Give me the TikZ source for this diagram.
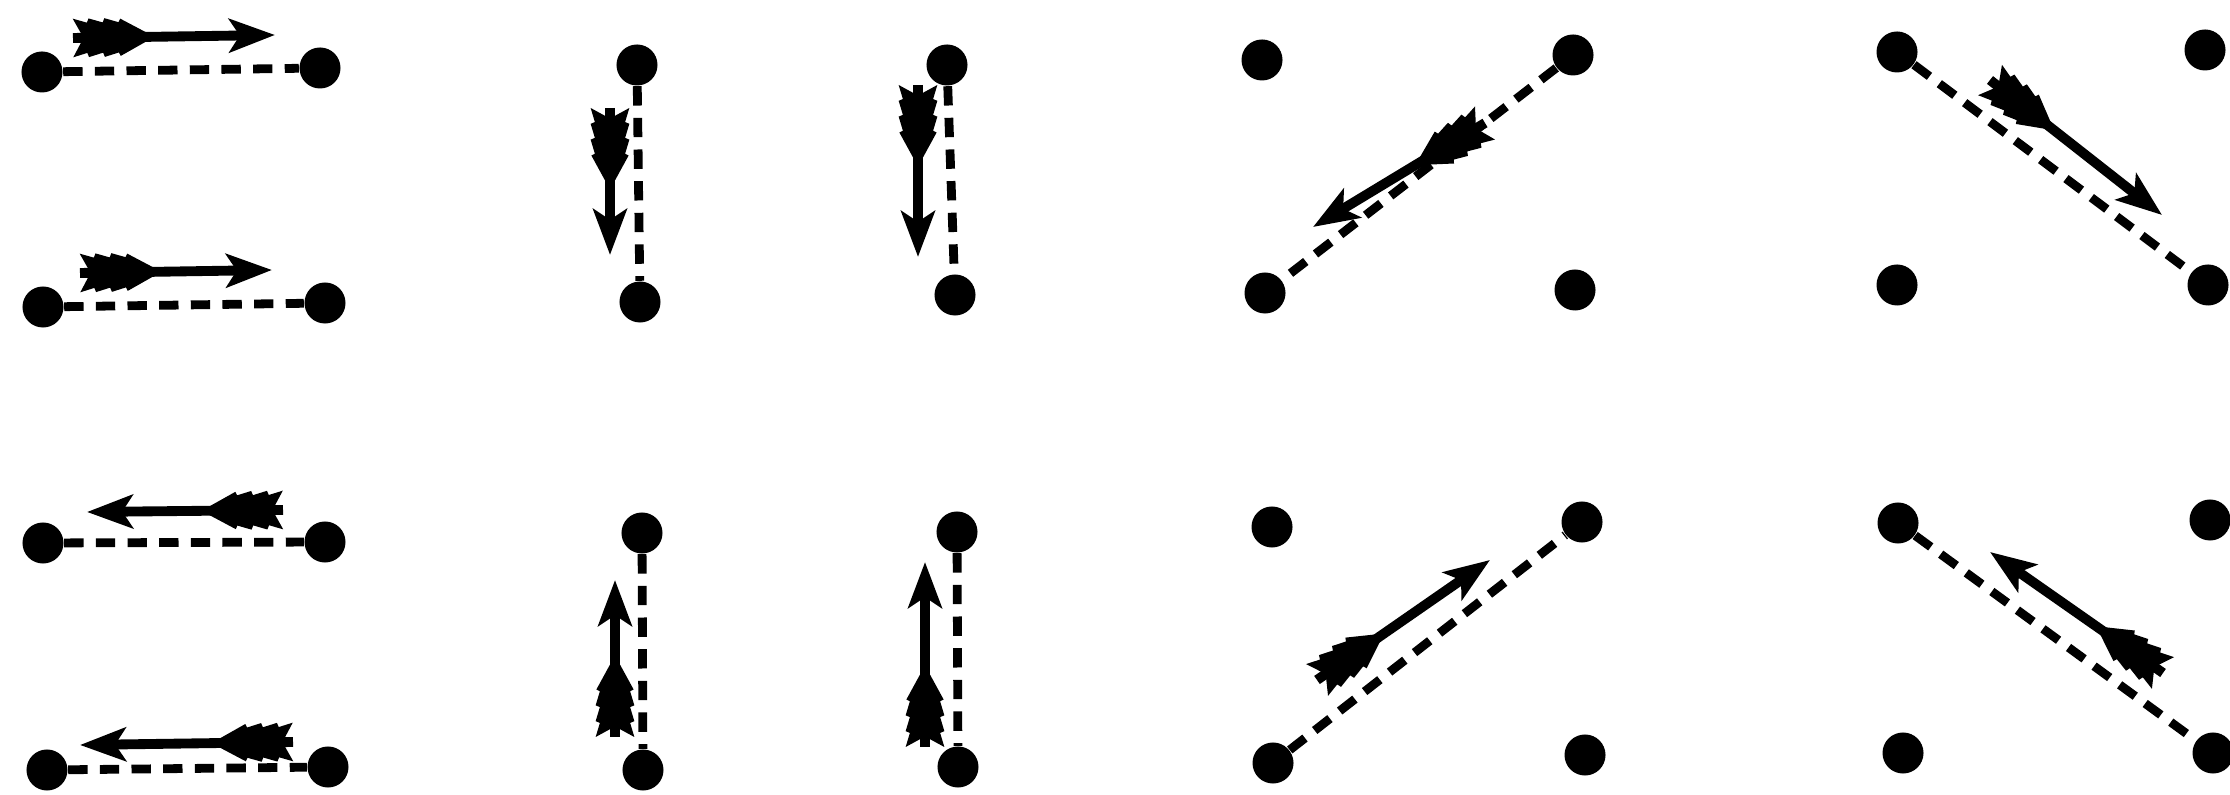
\documentclass[tikz,border=0pt]{standalone}
\usetikzlibrary{arrows.meta,decorations.markings}
\begin{document}
\begin{tikzpicture}[x=0.01cm,y=-0.01cm,
  dot/.style={circle,fill,inner sep=0pt,minimum size=0.41cm},
  trail/.style={line width=2.5pt,dash pattern=on 5.5pt off 3.5pt},
  shot/.style={line width=2.8pt,-{Stealth[length=13pt,width=9.5pt,inset=3pt]},
    postaction={decorate},
    decoration={markings,mark=at position 0pt with {
      \fill (0pt,5.5pt) -- (4pt,4.3pt) -- (4.5pt,5.5pt) -- (8.5pt,4.3pt) -- (9pt,5.5pt)
        -- (13pt,4.3pt) -- (13.5pt,5.3pt) -- (21pt,1.2pt) -- (21pt,-1.2pt)
        -- (13.5pt,-5.3pt) -- (13pt,-4.3pt) -- (9pt,-5.5pt) -- (8.5pt,-4.3pt)
        -- (4.5pt,-5.5pt) -- (4pt,-4.3pt) -- (0pt,-5.5pt) -- (3pt,0pt) -- cycle;}}}]
\useasboundingbox (0,0) rectangle (2230,795);
% horizontal pairs
\node[dot] (h1l) at (42,72) {};
\node[dot] (h1r) at (320,68) {};
\node[dot] (h2l) at (43,307) {};
\node[dot] (h2r) at (325,303) {};
\node[dot] (h3l) at (43,543) {};
\node[dot] (h3r) at (325,542) {};
\node[dot] (h4l) at (47,770) {};
\node[dot] (h4r) at (328,767) {};
\coordinate (h1s) at (73,38);   \coordinate (h1e) at (275,35);
\coordinate (h2s) at (80,273);  \coordinate (h2e) at (272,270);
\coordinate (h3s) at (283,510); \coordinate (h3e) at (87,512);
\coordinate (h4s) at (293,742); \coordinate (h4e) at (80,745);
\draw[trail] (h1l) -- (h1r);
\draw[trail] (h2l) -- (h2r);
\draw[trail] (h3l) -- (h3r);
\draw[trail] (h4l) -- (h4r);
\draw[shot] (h1s) -- (h1e);
\draw[shot] (h2s) -- (h2e);
\draw[shot] (h3s) -- (h3e);
\draw[shot] (h4s) -- (h4e);
% vertical pairs
\node[dot] (v1t) at (637,65) {};
\node[dot] (v1b) at (640,302) {};
\node[dot] (v2t) at (947,65) {};
\node[dot] (v2b) at (955,295) {};
\node[dot] (v3t) at (642,533) {};
\node[dot] (v3b) at (643,770) {};
\node[dot] (v4t) at (957,532) {};
\node[dot] (v4b) at (958,767) {};
\coordinate (v1s) at (610,108); \coordinate (v1e) at (610,255);
\coordinate (v2s) at (918,85);  \coordinate (v2e) at (918,257);
\coordinate (v3s) at (615,737); \coordinate (v3e) at (615,580);
\coordinate (v4s) at (925,747); \coordinate (v4e) at (925,562);
\draw[trail] (v1t) -- (v1b);
\draw[trail] (v2t) -- (v2b);
\draw[trail] (v3t) -- (v3b);
\draw[trail] (v4t) -- (v4b);
\draw[shot] (v1s) -- (v1e);
\draw[shot] (v2s) -- (v2e);
\draw[shot] (v3s) -- (v3e);
\draw[shot] (v4s) -- (v4e);
% rising diagonals
\node[dot] (p1a) at (1262,60) {};
\node[dot] (p1b) at (1573,55) {};
\node[dot] (p1c) at (1265,293) {};
\node[dot] (p1d) at (1575,290) {};
\node[dot] (p2a) at (1272,527) {};
\node[dot] (p2b) at (1582,522) {};
\node[dot] (p2c) at (1273,763) {};
\node[dot] (p2d) at (1585,755) {};
\coordinate (p1s) at (1485,123); \coordinate (p1e) at (1313,227);
\coordinate (p2s) at (1317,680); \coordinate (p2e) at (1490,560);
\draw[trail] (p1b) -- (p1c);
\draw[trail] (p2c) -- (p2b);
\draw[shot] (p1s) -- (p1e);
\draw[shot] (p2s) -- (p2e);
% falling diagonals
\node[dot] (q1a) at (1897,52) {};
\node[dot] (q1b) at (2205,50) {};
\node[dot] (q1c) at (1897,285) {};
\node[dot] (q1d) at (2208,285) {};
\node[dot] (q2a) at (1898,523) {};
\node[dot] (q2b) at (2210,520) {};
\node[dot] (q2c) at (1903,753) {};
\node[dot] (q2d) at (2213,753) {};
\coordinate (q1s) at (1990,80);  \coordinate (q1e) at (2162,215);
\coordinate (q2s) at (2163,673); \coordinate (q2e) at (1990,552);
\draw[trail] (q1a) -- (q1d);
\draw[trail] (q2a) -- (q2d);
\draw[shot] (q1s) -- (q1e);
\draw[shot] (q2s) -- (q2e);
\end{tikzpicture}
\end{document}
